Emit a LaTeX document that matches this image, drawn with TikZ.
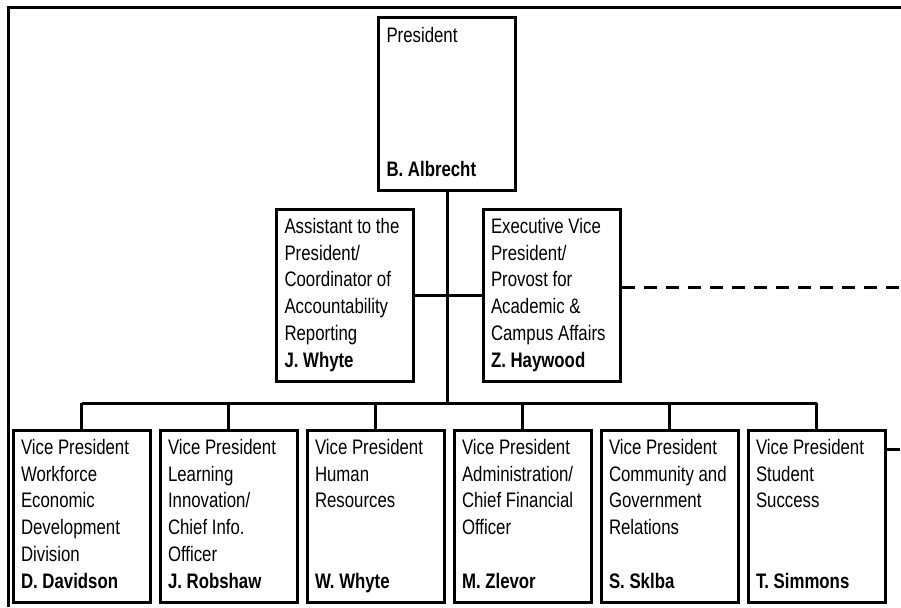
\documentclass[tikz,border=0pt]{standalone}
\usepackage{fontspec}
\setmainfont{Liberation Sans}[FakeStretch=0.8]
\usepackage{tikz}
\usetikzlibrary{shapes, positioning}
\tikzstyle{orgbox} = [rectangle, draw, line width=3pt, inner xsep=8pt, inner ysep=5.6pt,
    font=\fontsize{21pt}{26.8pt}\selectfont]
\tikzstyle{frame} = [draw, line width=3pt]
\tikzstyle{line} = [draw, line width=3pt]
\tikzstyle{dashline} = [draw, line width=3pt, dash pattern=on 13pt off 9pt]
% title at the top of the box, person at the bottom
\newcommand{\orgtext}[2]{\begin{minipage}[t][160.8pt][t]{121pt}\raggedright
    \strut #1\vfill\textbf{#2}\strut\end{minipage}}

\begin{document}
\begin{tikzpicture}[node distance = 147pt]
    \useasboundingbox (0,0) rectangle (901pt,-607pt);
    \path [frame] (8pt,-607pt) -- (8pt,-8pt) -- (901pt,-8pt);
    % Nodes
    \node [orgbox] (president) at (447pt,-104pt) {\orgtext{President}{B. Albrecht}};
    \node [orgbox] (assistant) at (345pt,-295pt) {\orgtext{Assistant to the\\President/\\Coordinator of\\Accountability\\Reporting}{J. Whyte}};
    \node [orgbox] (provost) at (551.5pt,-295pt) {\orgtext{Executive Vice\\President/\\Provost for\\Academic \&\\Campus Affairs}{Z. Haywood}};
    \node [orgbox] (workforce) at (81.5pt,-516pt) {\orgtext{Vice President\\Workforce\\Economic\\Development\\Division}{D. Davidson}};
    \node [orgbox, right of=workforce] (learning) {\orgtext{Vice President\\Learning\\Innovation/\\Chief Info.\\Officer}{J. Robshaw}};
    \node [orgbox, right of=learning] (hr) {\orgtext{Vice President\\Human\\Resources}{W. Whyte}};
    \node [orgbox, right of=hr] (admin) {\orgtext{Vice President\\Administration/\\Chief Financial\\Officer}{M. Zlevor}};
    \node [orgbox, right of=admin] (community) {\orgtext{Vice President\\Community and\\Government\\Relations}{S. Sklba}};
    \node [orgbox, right of=community] (student) {\orgtext{Vice President\\Student\\Success}{T. Simmons}};
    \coordinate (bus) at (0,-403pt);
    \coordinate (edge) at (901pt,0);
    % Edges
    \path [line] (president) -- (president |- bus);
    \path [line] (assistant) -- (provost);
    \path [line] (workforce |- bus) -- (student |- bus);
    \foreach \vp in {workforce, learning, hr, admin, community, student}
        \path [line] (\vp) -- (\vp |- bus);
    \path [dashline] ([yshift=8pt]provost.east) -- ([yshift=8pt]provost.east -| edge);
    \path [dashline] ([yshift=-21pt]student.north east) -- ([yshift=-21pt]student.north east -| edge);
\end{tikzpicture}
\end{document}
